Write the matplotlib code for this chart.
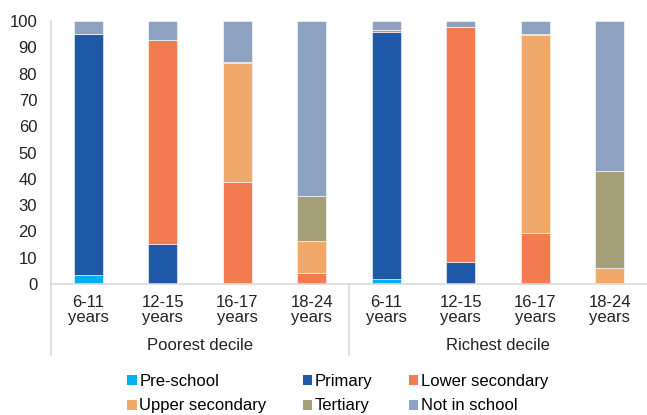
import matplotlib
matplotlib.use("Agg")
import matplotlib.pyplot as plt
from matplotlib.patches import Patch
import numpy as np

plt.rcParams['font.family'] = ['Liberation Sans', 'DejaVu Sans']

age_groups = ["6-11\nyears", "12-15\nyears", "16-17\nyears", "18-24\nyears"]
deciles = ["Poorest decile", "Richest decile"]
categories = age_groups + age_groups

series_names = ["Pre-school", "Primary", "Lower secondary",
                "Upper secondary", "Tertiary", "Not in school"]
pre_school      = [3.4, 0.0, 0.0, 0.0, 1.9, 0.0, 0.0, 0.0]
primary         = [91.8, 15.3, 0.5, 0.0, 94.0, 8.2, 0.0, 0.0]
lower_secondary = [0.0, 77.6, 38.4, 4.3, 0.9, 89.4, 19.3, 0.5]
upper_secondary = [0.0, 0.0, 45.2, 12.0, 0.0, 0.0, 75.4, 5.6]
tertiary        = [0.0, 0.0, 0.3, 17.3, 0.0, 0.0, 0.5, 36.9]
not_in_school   = [4.8, 7.1, 15.6, 66.4, 3.2, 2.4, 4.8, 57.0]

series = [pre_school, primary, lower_secondary,
          upper_secondary, tertiary, not_in_school]
colors = ["#00B0F0", "#1F58A6", "#F27C50", "#F0A96A", "#A59F7A", "#8CA2C0"]

FS = 12
fig = plt.figure(figsize=(6.47, 4.15), dpi=100)
ax = fig.add_axes([0.079, 0.316, 0.921, 0.633])

x = np.arange(len(categories))
bottom = np.zeros(len(categories))
for vals, col in zip(series, colors):
    vals = np.array(vals)
    ax.bar(x, vals, width=0.39, bottom=bottom, color=col,
           edgecolor="white", linewidth=0.4)
    bottom += vals

ax.set_xlim(-0.5, len(categories) - 0.5)
ax.set_ylim(0, 100)
ax.set_yticks(range(0, 101, 10))
ax.tick_params(axis="y", length=0, labelsize=FS, pad=10, colors="#222222")
ax.tick_params(axis="x", length=0, labelsize=FS, pad=8, colors="#222222")
ax.set_xticks(x)
ax.set_xticklabels(categories, linespacing=1.02)

for s in ["top", "right"]:
    ax.spines[s].set_visible(False)
for s in ["left", "bottom"]:
    ax.spines[s].set_color("#D9D9D9")
    ax.spines[s].set_linewidth(1.2)

# group labels and separators below the axis
trans = ax.get_xaxis_transform()
for xb in [-0.5, 3.5]:
    ax.plot([xb, xb], [0, -0.27], transform=trans, color="#D9D9D9",
            lw=1.2, clip_on=False)
for i, name in enumerate(deciles):
    ax.text(1.5 + 4 * i, -0.233, name, transform=trans, ha="center",
            va="center", fontsize=FS, color="#222222")

handles = [Patch(facecolor=c, edgecolor="none") for c in colors]
order = [0, 3, 1, 4, 2, 5]
fig.legend([handles[i] for i in order], [series_names[i] for i in order],
           ncol=3, loc="upper left", bbox_to_anchor=(0.197, 0.098),
           frameon=False, fontsize=FS, handlelength=0.55, handleheight=0.55,
           handletextpad=0.15, columnspacing=2.2, labelspacing=0.55,
           borderaxespad=0, borderpad=0)

fig.savefig("out.png", dpi=100)
